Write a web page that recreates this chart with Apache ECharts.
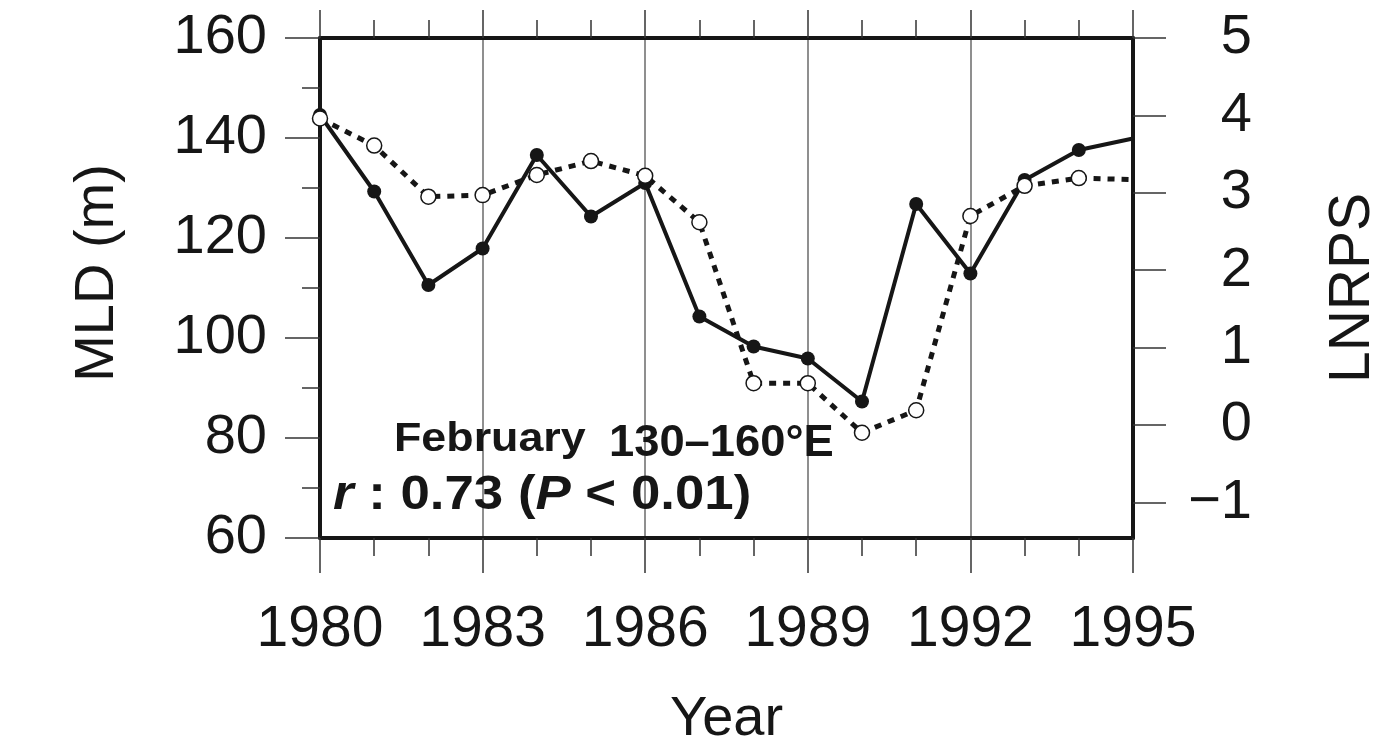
<!DOCTYPE html>
<html>
<head>
<meta charset="utf-8">
<script src="https://cdn.jsdelivr.net/npm/echarts@6/dist/echarts.min.js"></script>
<style>
  html, body { margin: 0; padding: 0; background: #fff; }
  #chart { width: 1399px; height: 745px; }
</style>
</head>
<body>
<div id="chart"></div>
<script>
// years on the x axis
var years = [1980, 1981, 1982, 1983, 1984, 1985, 1986, 1987, 1988, 1989, 1990, 1991, 1992, 1993, 1994, 1995];
// mixed layer depth (m), solid line, left axis
var mld = [144.6, 129.3, 110.6, 117.9, 136.6, 124.3, 131.0, 104.3, 98.3, 95.9, 87.3, 126.8, 112.9, 131.6, 137.6, 139.9];
// LNRPS, dotted line, right axis
var lnrps = [3.96, 3.61, 2.95, 2.97, 3.23, 3.41, 3.22, 2.62, 0.54, 0.54, -0.10, 0.19, 2.70, 3.09, 3.19, 3.17];
// right axis tick labels
var rightTicks = [-1, 0, 1, 2, 3, 4, 5];

var FONT = 'Liberation Sans, Arial, Helvetica, sans-serif';
var INK = '#161616';

var chart = echarts.init(document.getElementById('chart'));

function pts(vals) {
  return years.map(function (y, i) {
    return { value: [y, vals[i]], symbol: y === 1995 ? 'none' : undefined };
  });
}

var xBase = {
  type: 'value', min: 1980, max: 1995, interval: 3,
  axisLine: { show: true, onZero: false, lineStyle: { color: INK, width: 4 } },
  axisTick: { show: true, inside: false, length: 35, lineStyle: { color: '#333', width: 1.5 } },
  minorTick: { show: true, splitNumber: 3, length: 18, lineStyle: { color: '#333', width: 1.5 } }
};

chart.setOption({
  animation: false,
  backgroundColor: '#fff',
  grid: { left: 320, top: 38, right: 266, bottom: 207, containLabel: false, outerBoundsMode: 'none' },
  xAxis: [
    Object.assign({}, xBase, {
      position: 'bottom',
      name: 'Year', nameLocation: 'middle', nameGap: 154,
      nameTextStyle: { fontFamily: FONT, fontSize: 56, color: INK },
      axisLabel: {
        margin: 64, fontFamily: FONT, fontSize: 57, color: INK,
        formatter: function (v) { return String(v); }
      },
      splitLine: { show: true, lineStyle: { color: '#6a6a6a', width: 1.5 } }
    }),
    Object.assign({}, xBase, {
      position: 'top',
      axisTick: { show: true, length: 28, lineStyle: { color: '#333', width: 1.5 } },
      minorTick: { show: true, splitNumber: 3, length: 18, lineStyle: { color: '#333', width: 1.5 } },
      axisLabel: { show: false },
      splitLine: { show: false }
    })
  ],
  yAxis: [
    {
      type: 'value', min: 60, max: 160, interval: 20, position: 'left',
      name: 'MLD (m)', nameLocation: 'middle', nameGap: 194, nameRotate: 90,
      nameTextStyle: { fontFamily: FONT, fontSize: 56, color: INK, padding: [0, 0, 0, 30] },
      axisLine: { show: true, lineStyle: { color: INK, width: 4 } },
      axisTick: { show: true, length: 35, lineStyle: { color: '#333', width: 1.5 } },
      minorTick: { show: true, splitNumber: 2, length: 18, lineStyle: { color: '#333', width: 1.5 } },
      axisLabel: { margin: 53, fontFamily: FONT, fontSize: 56, color: INK },
      splitLine: { show: false }
    },
    {
      type: 'value', min: -1.46, max: 5, position: 'right',
      name: 'LNRPS', nameLocation: 'middle', nameGap: 192, nameRotate: 90,
      nameTextStyle: { fontFamily: FONT, fontSize: 57, color: INK },
      axisLine: { show: true, lineStyle: { color: INK, width: 4 } },
      axisTick: { show: true, length: 33, customValues: rightTicks, lineStyle: { color: '#333', width: 1.5 } },
      axisLabel: {
        customValues: rightTicks, align: 'right', margin: 119,
        fontFamily: FONT, fontSize: 56, color: INK,
        formatter: function (v) { return v < 0 ? '\u2212' + Math.abs(v) : String(v); }
      },
      splitLine: { show: false }
    }
  ],
  series: [
    {
      name: 'MLD', type: 'line', xAxisIndex: 0, yAxisIndex: 0,
      data: pts(mld),
      symbol: 'circle', symbolSize: 14, showAllSymbol: true,
      lineStyle: { color: INK, width: 4 },
      itemStyle: { color: INK },
      z: 3
    },
    {
      name: 'LNRPS', type: 'line', xAxisIndex: 0, yAxisIndex: 1,
      data: pts(lnrps),
      symbol: 'circle', symbolSize: 15, showAllSymbol: true,
      lineStyle: { color: INK, width: 5, type: [7, 7] },
      itemStyle: { color: '#fff', borderColor: INK, borderWidth: 1.5 },
      z: 4
    }
  ],
  graphic: [
    {
      type: 'text', left: 394, top: 420, scaleX: 1.12, z: 10,
      style: { text: 'February', fontFamily: FONT, fontWeight: 'bold', fontSize: 40, fill: INK }
    },
    {
      type: 'text', left: 609, top: 422, scaleX: 1.03, z: 10,
      style: { text: '130\u2013160\u00b0E', fontFamily: FONT, fontWeight: 'bold', fontSize: 44, fill: INK }
    },
    {
      type: 'text', left: 333, top: 472, scaleX: 1.1, z: 10,
      style: {
        text: '{i|r} : 0.73 ({i|P} < 0.01)',
        fontFamily: FONT, fontWeight: 'bold', fontSize: 48, fill: INK,
        rich: { i: { fontFamily: FONT, fontWeight: 'bold', fontStyle: 'italic', fontSize: 48, fill: INK } }
      }
    }
  ]
});
</script>
</body>
</html>
